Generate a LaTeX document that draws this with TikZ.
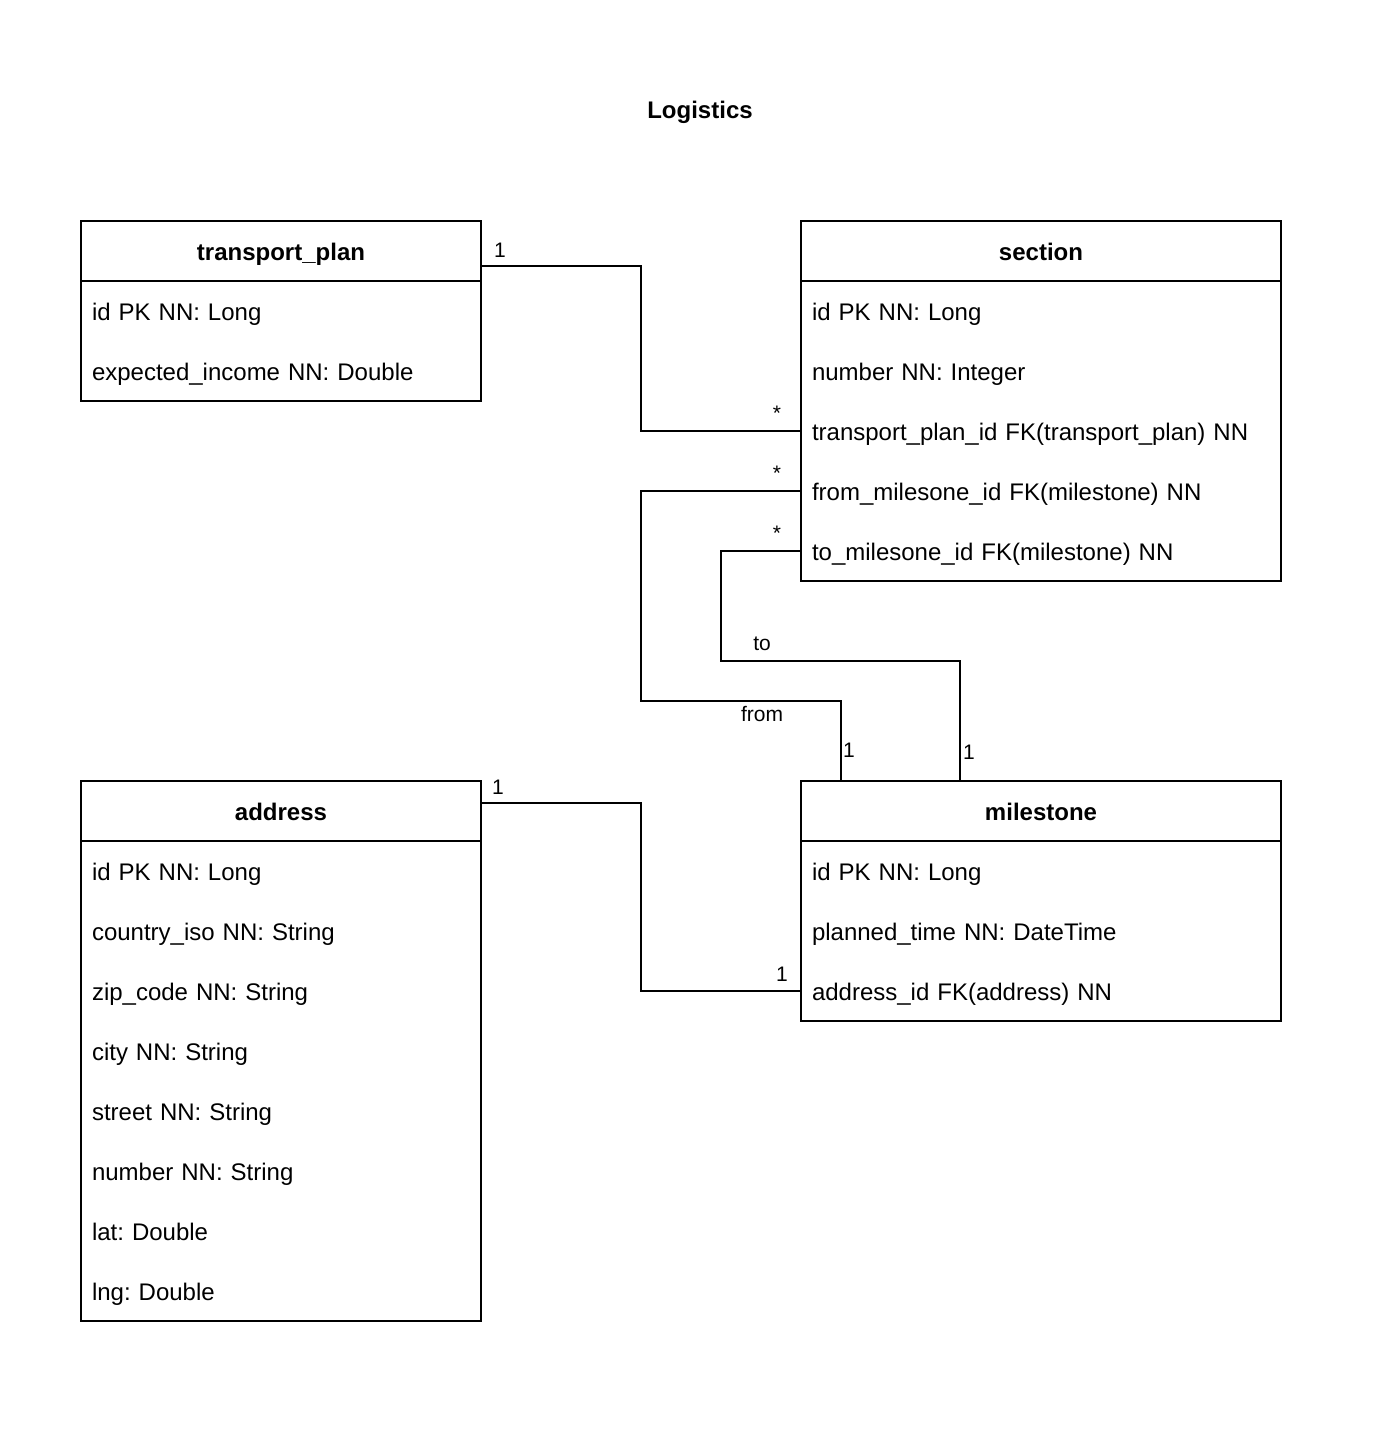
\documentclass[tikz,border=0pt]{standalone}
\usepackage{fontspec}
\setmainfont{Liberation Sans}
\frenchspacing
\usetikzlibrary{positioning,fit}

\tikzset{
	head/.style={draw,minimum width=#1,minimum height=60pt,inner sep=0pt,outer sep=0pt,text height=20pt,text depth=2pt,font=\fontsize{24}{28}\selectfont\bfseries},
	row/.style={minimum height=60pt,text width=#1,inner xsep=11pt,inner ysep=0pt,outer sep=0pt,text height=20pt,text depth=2pt,align=left,font=\fontsize{24}{28}\selectfont},
	body/.style={draw,inner sep=0pt,outer sep=0pt},
	card/.style={font=\fontsize{21}{24}\selectfont,inner sep=1pt},
	link/.style={line width=1.3pt}
}

\begin{document}
\begin{tikzpicture}[x=1pt,y=-1pt,line width=1.3pt]
		\useasboundingbox (0,0) rectangle (1381,1430);
		\node[font=\fontsize{24}{28}\selectfont\bfseries] (title) at (700,112) {Logistics};
		
		% transport_plan
		\node[head=400pt,anchor=north west] (tp) at (81,221) {transport\_plan};
		\node[row=378pt,below=0pt of tp] (tp1) {id PK NN: Long};
		\node[row=378pt,below=0pt of tp1] (tp2) {expected\_income NN: Double};
		\node[body,fit=(tp1)(tp2)] (tpbody) {};
		
		% section
		\node[head=480pt,anchor=north west] (sec) at (801,221) {section};
		\node[row=458pt,below=0pt of sec] (s1) {id PK NN: Long};
		\node[row=458pt,below=0pt of s1] (s2) {number NN: Integer};
		\node[row=458pt,below=0pt of s2] (s3) {transport\_plan\_id FK(transport\_plan) NN};
		\node[row=458pt,below=0pt of s3] (s4) {from\_milesone\_id FK(milestone) NN};
		\node[row=458pt,below=0pt of s4] (s5) {to\_milesone\_id FK(milestone) NN};
		\node[body,fit=(s1)(s5)] (secbody) {};
		
		% address
		\node[head=400pt,anchor=north west] (ad) at (81,781) {address};
		\node[row=378pt,below=0pt of ad] (a1) {id PK NN: Long};
		\node[row=378pt,below=0pt of a1] (a2) {country\_iso NN: String};
		\node[row=378pt,below=0pt of a2] (a3) {zip\_code NN: String};
		\node[row=378pt,below=0pt of a3] (a4) {city NN: String};
		\node[row=378pt,below=0pt of a4] (a5) {street NN: String};
		\node[row=378pt,below=0pt of a5] (a6) {number NN: String};
		\node[row=378pt,below=0pt of a6] (a7) {lat: Double};
		\node[row=378pt,below=0pt of a7] (a8) {lng: Double};
		\node[body,fit=(a1)(a8)] (adbody) {};
		
		% milestone
		\node[head=480pt,anchor=north west] (ms) at (801,781) {milestone};
		\node[row=458pt,below=0pt of ms] (m1) {id PK NN: Long};
		\node[row=458pt,below=0pt of m1] (m2) {planned\_time NN: DateTime};
		\node[row=458pt,below=0pt of m2] (m3) {address\_id FK(address) NN};
		\node[body,fit=(m1)(m3)] (msbody) {};
		
		% relations
		\draw[link] ([yshift=-15pt]tp.east) -- ++(160,0) |- (s3.west);
		\draw[link] (s4.west) -- ++(-160,0) -- ++(0,210) -| ([xshift=40pt]ms.north west);
		\draw[link] (s5.west) -- ++(-80,0) -- ++(0,110) -| ([xshift=159pt]ms.north west);
		\draw[link] ([yshift=8pt]ad.east) -- ++(160,0) |- (m3.west);
		
		\node[card] (c1) at (500,250) {1};
		\node[card] (c2) at (777,413) {*};
		\node[card] (c3) at (777,473) {*};
		\node[card] (c4) at (777,533) {*};
		\node[card] (lto) at (762,644) {to};
		\node[card] (lfrom) at (762,714) {from};
		\node[card] (c5) at (849,750) {1};
		\node[card] (c6) at (969,752) {1};
		\node[card] (c7) at (498,787) {1};
		\node[card] (c8) at (782,974) {1};
		
		\end{tikzpicture}
\end{document}
